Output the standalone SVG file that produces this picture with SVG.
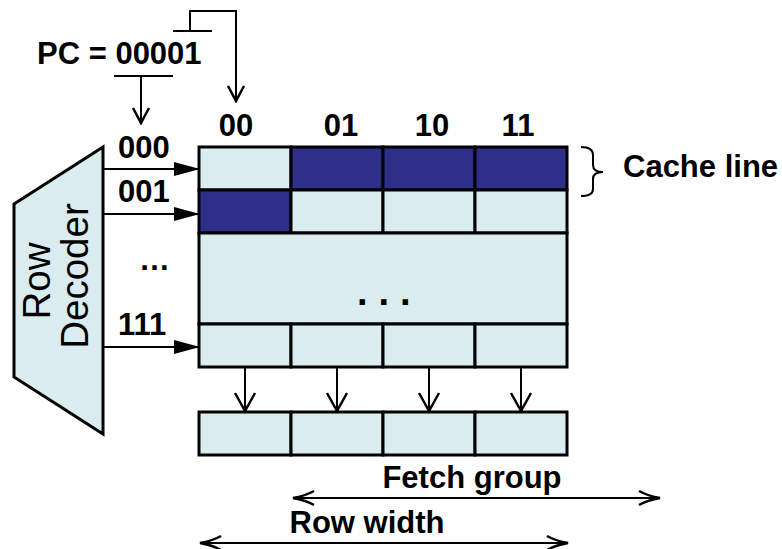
<svg xmlns="http://www.w3.org/2000/svg" width="782" height="549" viewBox="0 0 782 549">
<style>
.cell{fill:#DAECEF;stroke:#000;stroke-width:3}
.dark{fill:#2E2F88;stroke:#000;stroke-width:3}
.t{font-family:"Liberation Sans",Arial,sans-serif;font-weight:bold;font-size:31px;fill:#000}
.r{font-family:"Liberation Sans",Arial,sans-serif;font-size:38.5px;fill:#000}
.tl{fill:none;stroke:#000;stroke-width:2}
</style>
<defs>
<marker id="fa" markerWidth="26" markerHeight="16" refX="25" refY="8" orient="auto" markerUnits="userSpaceOnUse">
<path d="M0,1 L26,8 L0,15 Z" fill="#000"/>
</marker>
<marker id="va" markerWidth="22" markerHeight="24" refX="19" refY="12" orient="auto" markerUnits="userSpaceOnUse">
<path d="M1,2 L19,12 L1,22" fill="none" stroke="#000" stroke-width="2.5"/>
</marker>
<marker id="vs" markerWidth="18" markerHeight="20" refX="16" refY="10" orient="auto" markerUnits="userSpaceOnUse">
<path d="M1,2 L16,10 L1,18" fill="none" stroke="#000" stroke-width="2.5"/>
</marker>
<marker id="vd" markerWidth="24" markerHeight="18" refX="22" refY="9" orient="auto-start-reverse" markerUnits="userSpaceOnUse">
<path d="M1,2 Q10,7 22,9 Q10,11 1,16" fill="none" stroke="#000" stroke-width="2.5"/>
</marker>
</defs>

<g id="pc">
<text class="t" x="37" y="64">PC = 00001</text>
</g>

<g id="decoder">
<polygon points="14,204 103,147 103,434 14,377" fill="#DAECEF" stroke="#000" stroke-width="3"/>
<text class="r" transform="translate(50,281) rotate(-90)" text-anchor="middle">Row</text>
<text class="r" transform="translate(88,276) rotate(-90)" text-anchor="middle">Decoder</text>
</g>

<g id="row-labels">
<text class="t" x="118" y="158">000</text>
<text class="t" x="118" y="202">001</text>
<text class="t" x="139" y="270">…</text>
<text class="t" x="118" y="335">111</text>
</g>

<g id="col-labels">
<text class="t" x="236" y="136" text-anchor="middle">00</text>
<text class="t" x="341" y="136" text-anchor="middle">01</text>
<text class="t" x="432" y="136" text-anchor="middle">10</text>
<text class="t" x="518" y="136" text-anchor="middle">11</text>
</g>

<g id="array">
<rect class="cell" x="199" y="147" width="92" height="43"/>
<rect class="dark" x="291" y="147" width="92" height="43"/>
<rect class="dark" x="383" y="147" width="92" height="43"/>
<rect class="dark" x="475" y="147" width="92" height="43"/>
<rect class="dark" x="199" y="190" width="92" height="43"/>
<rect class="cell" x="291" y="190" width="92" height="43"/>
<rect class="cell" x="383" y="190" width="92" height="43"/>
<rect class="cell" x="475" y="190" width="92" height="43"/>
<rect class="cell" x="199" y="233" width="368" height="91"/>
<text class="t" x="357" y="305" style="font-size:38px;letter-spacing:11px">...</text>
<rect class="cell" x="199" y="324" width="92" height="43"/>
<rect class="cell" x="291" y="324" width="92" height="43"/>
<rect class="cell" x="383" y="324" width="92" height="43"/>
<rect class="cell" x="475" y="324" width="92" height="43"/>
</g>

<g id="fetch-buffer">
<rect class="cell" x="199" y="412" width="92" height="43"/>
<rect class="cell" x="291" y="412" width="92" height="43"/>
<rect class="cell" x="383" y="412" width="92" height="43"/>
<rect class="cell" x="475" y="412" width="92" height="43"/>
</g>

<g id="cache-line">
<path class="tl" d="M581,147 Q593,147 593,155 L593,165 Q593,172 603,172 Q593,172 593,179 L593,189 Q593,196 581,196"/>
<text class="t" x="623" y="177">Cache line</text>
</g>

<g id="connectors">
<path class="tl" d="M114,76 H173"/>
<path class="tl" d="M173,31 H212"/>
<path class="tl" d="M141,76 V123" marker-end="url(#vs)"/>
<path class="tl" d="M190,31 V11 H236 V101" marker-end="url(#vs)"/>
<path class="tl" d="M103,169 H199" marker-end="url(#fa)"/>
<path class="tl" d="M103,214 H199" marker-end="url(#fa)"/>
<path class="tl" d="M103,347 H199" marker-end="url(#fa)"/>
<path class="tl" d="M245,367 V411" marker-end="url(#va)"/>
<path class="tl" d="M337,367 V411" marker-end="url(#va)"/>
<path class="tl" d="M429,367 V411" marker-end="url(#va)"/>
<path class="tl" d="M521,367 V411" marker-end="url(#va)"/>
<path class="tl" d="M293,498 H660" marker-start="url(#vd)" marker-end="url(#vd)"/>
<path class="tl" d="M200,543 H568" marker-start="url(#vd)" marker-end="url(#vd)"/>
</g>

<g id="dim-labels">
<text class="t" x="472" y="488" text-anchor="middle">Fetch group</text>
<text class="t" x="367" y="533" text-anchor="middle">Row width</text>
</g>
</svg>
